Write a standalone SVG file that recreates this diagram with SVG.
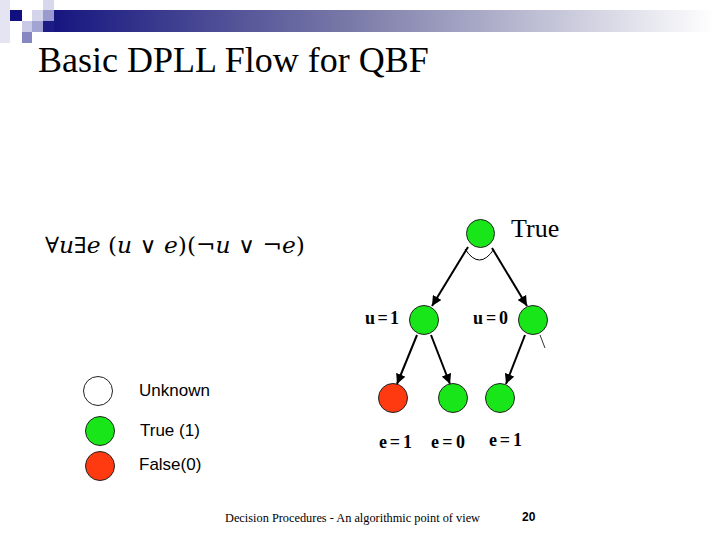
<svg xmlns="http://www.w3.org/2000/svg" width="720" height="540" viewBox="0 0 720 540">
<style>
.node{stroke:#222;stroke-width:1}
.g{fill:#18e618}
.r{fill:#ff3a10}
.w{fill:#fff}
.edge{stroke:#000;stroke-width:2;fill:none}
.lbl{font-family:"Liberation Serif","Times New Roman",serif;font-size:18px;font-weight:bold;fill:#000}
.leg{font-family:"Liberation Sans",Arial,sans-serif;font-size:17px;fill:#000}
.it{font-style:italic}
</style>
<defs>
<linearGradient id="bar" x1="0" y1="0" x2="1" y2="0">
<stop offset="0" stop-color="#161680"/>
<stop offset="0.45" stop-color="#7a7aa8"/>
<stop offset="1" stop-color="#ffffff"/>
</linearGradient>
<marker id="arr" viewBox="0 0 10 10" refX="10" refY="5" markerWidth="10" markerHeight="10" markerUnits="userSpaceOnUse" orient="auto">
<path d="M0,0 L10,5 L0,10 z" fill="#000"/>
</marker>
</defs>
<rect width="720" height="540" fill="#fff"/>
<g id="header">
<rect x="54" y="10" width="660" height="22" fill="url(#bar)"/>
<rect x="43" y="21" width="11" height="11" fill="#1c1c84"/>
<rect x="0" y="0" width="10" height="43" fill="#e4e4f2"/>
<rect x="10" y="10" width="12" height="11" fill="#101080"/>
<rect x="32" y="10" width="11" height="11" fill="#d4d4ea"/>
<rect x="43" y="10" width="11" height="11" fill="#9a9ad0"/>
<rect x="43" y="0" width="11" height="10" fill="#d8d8ec"/>
<rect x="22" y="21" width="10" height="11" fill="#cacae6"/>
<rect x="32" y="21" width="11" height="11" fill="#a4a4d4"/>
<rect x="22" y="32" width="10" height="11" fill="#8686c2"/>
</g>
<text x="38" y="72" font-family="'Liberation Serif','Times New Roman',serif" font-size="36" fill="#000">Basic DPLL Flow for QBF</text>
<text x="45" y="253" font-family="'DejaVu Serif',serif" font-size="22" fill="#000" textLength="260" lengthAdjust="spacingAndGlyphs">∀<tspan class="it">u</tspan>∃<tspan class="it">e</tspan> (<tspan class="it">u</tspan> ∨ <tspan class="it">e</tspan>)(¬<tspan class="it">u</tspan> ∨ ¬<tspan class="it">e</tspan>)</text>
<g id="connectors">
<line class="edge" x1="468" y1="247" x2="432" y2="306" marker-end="url(#arr)"/>
<line class="edge" x1="492" y1="248" x2="527" y2="306" marker-end="url(#arr)"/>
<line class="edge" x1="417" y1="335" x2="397" y2="384" marker-end="url(#arr)"/>
<line class="edge" x1="431" y1="335" x2="450" y2="384" marker-end="url(#arr)"/>
<line class="edge" x1="525" y1="335" x2="506" y2="384" marker-end="url(#arr)"/>
<line x1="540" y1="335" x2="545" y2="348" stroke="#000" stroke-width="0.8"/>
<path d="M465,249 Q479.5,271 494,249" stroke="#000" stroke-width="1" fill="none"/>
</g>
<g id="root">
<circle class="node g" cx="480.5" cy="233.5" r="14"/>
<text x="511" y="237" font-family="'Liberation Serif','Times New Roman',serif" font-size="26" fill="#000">True</text>
</g>
<g id="u1">
<circle class="node g" cx="424" cy="320" r="14.5"/>
<text class="lbl" x="365" y="324" textLength="34" lengthAdjust="spacing">u = 1</text>
</g>
<g id="u0">
<circle class="node g" cx="533" cy="320" r="14.5"/>
<text class="lbl" x="473" y="324" textLength="35" lengthAdjust="spacing">u = 0</text>
</g>
<g id="u1e1">
<circle class="node r" cx="393" cy="398" r="14.5"/>
<text class="lbl" x="379" y="448" textLength="33" lengthAdjust="spacing">e = 1</text>
</g>
<g id="u1e0">
<circle class="node g" cx="453" cy="398" r="14.5"/>
<text class="lbl" x="431" y="448" textLength="34" lengthAdjust="spacing">e = 0</text>
</g>
<g id="u0e1">
<circle class="node g" cx="500" cy="398" r="14.5"/>
<text class="lbl" x="489" y="446" textLength="33" lengthAdjust="spacing">e = 1</text>
</g>
<g id="legend-unknown">
<circle class="node w" cx="98" cy="391" r="14.5"/>
<text class="leg" x="139" y="396">Unknown</text>
</g>
<g id="legend-true">
<circle class="node g" cx="100" cy="431" r="14.5"/>
<text class="leg" x="140" y="436">True (1)</text>
</g>
<g id="legend-false">
<circle class="node r" cx="100" cy="466" r="14.5"/>
<text class="leg" x="139" y="470">False(0)</text>
</g>
<text x="225" y="522" font-family="'Liberation Serif','Times New Roman',serif" font-size="12" fill="#000" textLength="255" lengthAdjust="spacingAndGlyphs">Decision Procedures - An algorithmic point of view</text>
<text x="522" y="521" font-family="'Liberation Sans',Arial,sans-serif" font-size="12" font-weight="bold" fill="#000">20</text>
</svg>
